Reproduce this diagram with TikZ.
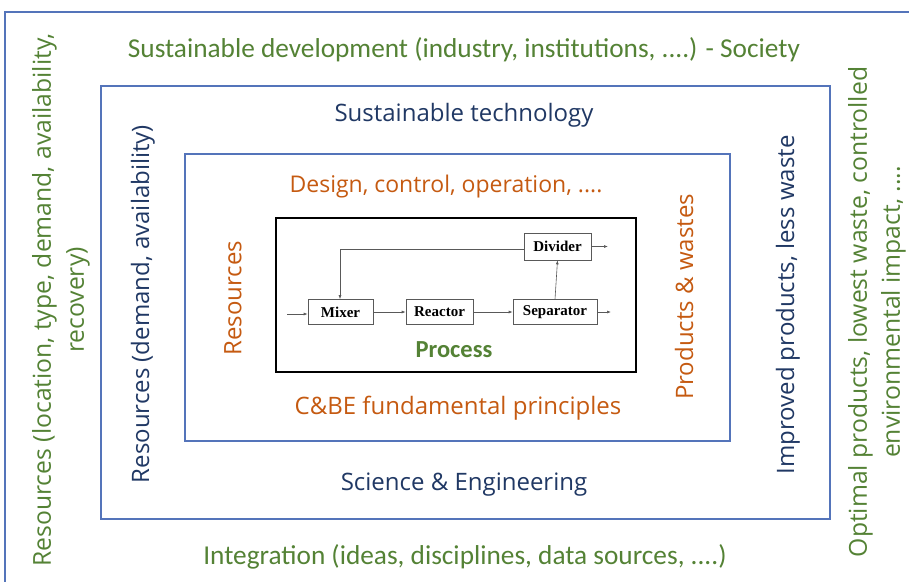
\documentclass[tikz,border=0pt]{standalone}
\usepackage{fontspec}
\setmainfont{Open Sans}
\newfontfamily\calfont{Carlito}
\newfontfamily\tmsfont{Liberation Serif}
\usetikzlibrary{arrows.meta}
\definecolor{sgreen}{RGB}{84,130,53}
\definecolor{sblue}{RGB}{32,56,100}
\definecolor{sorange}{RGB}{197,90,17}
\definecolor{sbox}{RGB}{84,116,186}
\tikzset{
  frame/.style={draw=sbox, line width=1.6pt},
  procbox/.style={draw=black, line width=1.8pt},
  unit/.style={draw=black!65, line width=0.6pt, fill=white, minimum height=25pt, inner sep=0pt, font=\tmsfont\bfseries\fontsize{15}{17}\selectfont},
  flow/.style={draw=black!65, line width=0.6pt, -{Latex[length=4pt,width=3pt]}},
  gtxt/.style={text=sgreen, font=\calfont\fontsize{27.3}{30}\selectfont},
  btxt/.style={text=sblue, font=\fontsize{24}{28}\selectfont},
  otxt/.style={text=sorange, font=\fontsize{24}{28}\selectfont},
  gside/.style={text=sgreen, font=\fontsize{24.7}{33}\selectfont, align=center},
}
\begin{document}
\begin{tikzpicture}[x=1pt,y=-1pt]
\useasboundingbox (0,0) rectangle (909,581);
\begin{scope}
\clip (0,0) rectangle (909,581);
\draw[frame] (5,12) rectangle (930,600);
\end{scope}
\draw[frame] (101,86) rectangle (830,519);
\draw[frame] (185,154) rectangle (730,441);
\draw[procbox] (276,218) rectangle (636,372);

\node[gtxt] (sd) at (464,50) {Sustainable development (industry, institutions, ....) - Society};
\node[gtxt] (int) at (465,557) {Integration (ideas, disciplines, data sources, ....)};
\node[btxt] (st) at (464,115) {Sustainable technology};
\node[btxt] (se) at (464,485) {Science \& Engineering};
\node[otxt, font=\fontsize{23}{27}\selectfont] (dc) at (446,187) {Design, control, operation, ....};
\node[otxt] (cb) at (458,408) {C\&BE fundamental principles};
\node[otxt, rotate=90] (res) at (233,298) {Resources};
\node[otxt, rotate=90] (pw) at (684,297) {Products \& wastes};
\node[btxt, rotate=90] (rda) at (143,304) {Resources (demand, availability)};
\node[btxt, rotate=90] (ip) at (788,305) {Improved products, less waste};
\node[gside, rotate=90] (rl) at (61,300) {Resources (location, type, demand, availability,\\recovery)};
\node[gside, rotate=90] (op) at (877,312) {Optimal products, lowest waste, controlled\\environmental impact, ....};

\node[unit, minimum width=65pt] (mix) at (340.5,312) {Mixer};
\node[unit, minimum width=67pt] (rea) at (439.5,312) {Reactor};
\node[unit, minimum width=84pt] (sep) at (555,312) {Separator};
\node[unit, minimum width=67pt, minimum height=27pt] (div) at (557.5,246.5) {Divider};
\node[text=sgreen, font=\calfont\bfseries\fontsize{24.5}{28}\selectfont] (proc) at (454,350) {Process};

\coordinate (in) at (287,314);
\coordinate (out1) at (611,312);
\coordinate (out2) at (608,246.5);
\draw[flow] (in) -- (mix.west |- in);
\draw[flow] (mix) -- (rea);
\draw[flow] (rea) -- (sep);
\draw[flow] (sep.east) -- (out1);
\draw[flow] (div.east |- out2) -- (out2);
\draw[flow] (sep.north) -- (div.south);
\draw[flow] (div.west |- 0,249) -| (mix.north -| 340,0);
\end{tikzpicture}
\end{document}
